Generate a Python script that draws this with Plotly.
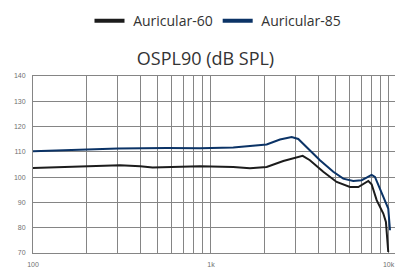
import plotly.graph_objects as go

freq_85 = [100, 300, 566, 867, 1334, 1656, 2055, 2442, 2840, 3094, 3448, 4096, 4867, 5537, 6300, 7026, 7487, 7991, 8343, 9096, 9911, 10140]
spl_85 = [110.2, 111.3, 111.5, 111.4, 111.7, 112.2, 112.9, 114.9, 115.9, 115.1, 111.9, 106.7, 102.1, 99.4, 98.5, 98.8, 99.8, 100.9, 100.1, 93.5, 87.6, 79.0]

freq_60 = [100, 192, 308, 400, 470, 867, 1334, 1656, 2055, 2549, 3030, 3275, 3597, 4276, 5085, 6039, 6729, 7181, 7657, 7991, 8531, 9297, 9617, 9911]
spl_60 = [103.6, 104.3, 104.7, 104.3, 103.8, 104.3, 104.0, 103.5, 104.0, 106.4, 107.7, 108.4, 106.7, 102.1, 98.1, 96.1, 96.1, 97.2, 98.5, 97.2, 90.9, 85.6, 82.3, 70.4]

x_grid = [100, 200, 300, 400, 500, 600, 700, 800, 900,
          1000, 2000, 3000, 4000, 5000, 6000, 7000, 8000, 9000, 10000]
x_labels = ["100", "", "", "", "", "", "", "", "",
            "1k", "", "", "", "", "", "", "", "", "\u00a0\u00a0\u00a0\u00a0\u00a010k Hz"]
y_ticks = [70, 80, 90, 100, 110, 120, 130, 140]
series_names = ["Auricular-60", "Auricular-85"]

c60 = "#1c1c1c"
c85 = "#0b3366"

fig = go.Figure()
fig.add_trace(go.Scatter(x=freq_60, y=spl_60, mode="lines", line=dict(color=c60, width=2),
                         showlegend=False, hoverinfo="skip"))
fig.add_trace(go.Scatter(x=freq_85, y=spl_85, mode="lines", line=dict(color=c85, width=2),
                         showlegend=False, hoverinfo="skip"))
fig.add_trace(go.Scatter(x=[None], y=[None], mode="lines", line=dict(color=c60, width=4),
                         name="\u00a0" + series_names[0]))
fig.add_trace(go.Scatter(x=[None], y=[None], mode="lines", line=dict(color=c85, width=4),
                         name="\u00a0" + series_names[1]))

grid = "#858585"
# page body keeps its default 8px margin, so the figure is 395x267 placed at (8, 8)
fig.update_layout(
    width=395, height=267,
    margin=dict(l=25, r=0, t=68, b=22, autoexpand=False),
    paper_bgcolor="white", plot_bgcolor="white",
    font=dict(family="Open Sans", color="#333333"),
    title=dict(text="OSPL90 (dB SPL)", x=0.5, xanchor="center", y=0.811, yanchor="middle",
               yref="container", font=dict(size=18, color="#333333")),
    legend=dict(orientation="h", x=0.5, xanchor="center", y=1.40, yanchor="top", yref="paper",
                font=dict(size=14, color="#333333")),
    xaxis=dict(type="log", range=[2, 4.079], tickvals=x_grid, ticktext=x_labels, automargin=False,
               showgrid=True, gridcolor=grid, gridwidth=1,
               showline=True, linecolor=grid, mirror=True,
               ticks="outside", ticklen=5, tickcolor="rgba(0,0,0,0)", ticklabeloverflow="allow",
               tickfont=dict(family="Liberation Sans", size=7, color="#707070"), zeroline=False),
    yaxis=dict(range=[70, 140], tickvals=y_ticks, automargin=False,
               showgrid=True, gridcolor=grid, gridwidth=1,
               showline=True, linecolor=grid, mirror=True,
               ticks="outside", ticklen=5, tickcolor="rgba(0,0,0,0)",
               tickfont=dict(family="Liberation Sans", size=7, color="#707070"), zeroline=False),
)

fig.write_html("out.html")
